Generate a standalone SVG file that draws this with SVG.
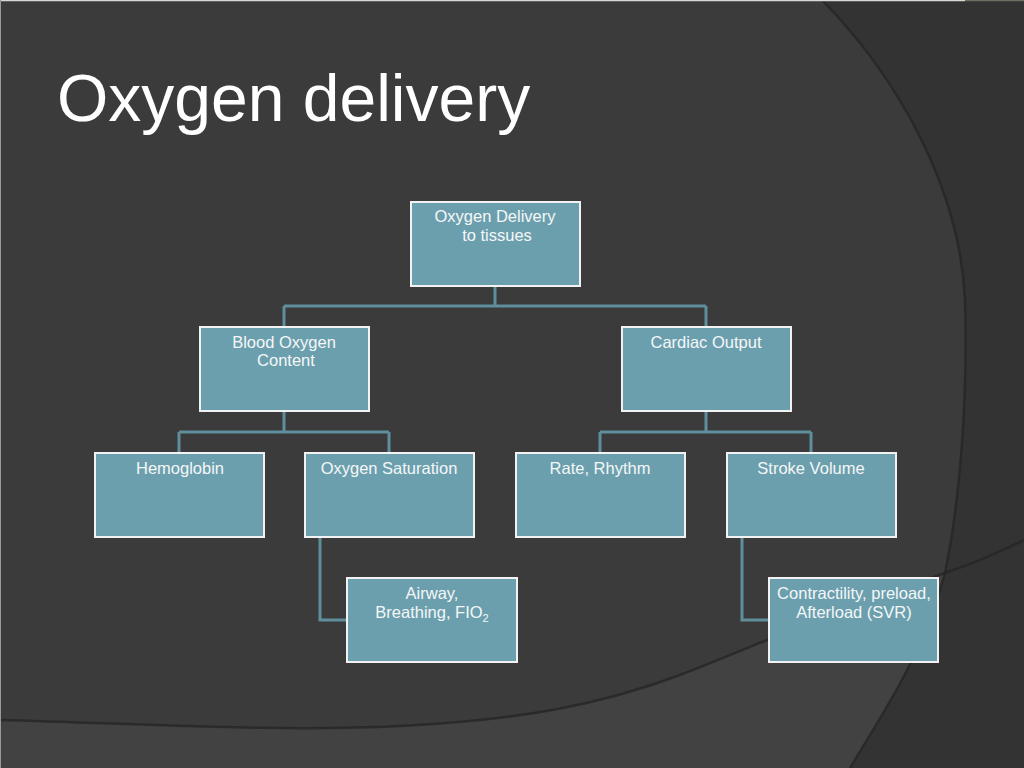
<svg xmlns="http://www.w3.org/2000/svg" width="1024" height="768" viewBox="0 0 1024 768">
<style>
.bg{fill:#3b3b3b}
.node rect{fill:#6c9fad;stroke:#f2f2f2;stroke-width:2}
.node text{font-family:"Liberation Sans",Arial,sans-serif;font-size:16.5px;fill:#f4f7f8;text-anchor:middle}
.title{font-family:"Liberation Sans",Arial,sans-serif;font-size:66px;fill:#ffffff}
#connectors path{fill:none;stroke:#5f8e9c;stroke-width:3}
.edge{fill:none;stroke:#262626;stroke-width:2.5;opacity:0.8}
</style>
<rect class="bg" x="0" y="0" width="1024" height="768"/>
<!-- lighter bottom band -->
<path d="M0,720 C150,724 280,732 400,726 C520,720 600,705 680,675 C740,652 800,625 870,600 C900,590 925,580 945,573 C975,563 1000,552 1024,540 L1024,768 L0,768 Z" fill="#424242"/>
<!-- dark right band -->
<path d="M822,0 C900,80 960,190 965,300 C968,400 960,500 945,573 C925,650 885,710 850,768 L1024,768 L1024,0 Z" fill="#333333"/>
<path class="edge" d="M0,720 C150,724 280,732 400,726 C520,720 600,705 680,675 C740,652 800,625 870,600 C900,590 925,580 945,573 C975,563 1000,552 1024,540"/>
<path class="edge" d="M822,0 C900,80 960,190 965,300 C968,400 960,500 945,573 C925,650 885,710 850,768"/>
<line x1="0" y1="0.5" x2="965" y2="0.5" stroke="#d8d8d8" stroke-width="1.5"/>
<line x1="965" y1="0.5" x2="1024" y2="0.5" stroke="#6e6e60" stroke-width="1.5"/>
<line x1="0.5" y1="0" x2="0.5" y2="768" stroke="#9a9a9a" stroke-width="1"/>

<text class="title" x="57" y="121">Oxygen delivery</text>

<g id="connectors">
<path d="M495,286 V306 M284,306 H706 M284,306 V327 M706,306 V327"/>
<path d="M284,411 V432 M179,432 H389 M179,432 V453 M389,432 V453"/>
<path d="M706,411 V432 M600,432 H811 M600,432 V453 M811,432 V453"/>
<path d="M320,537 V620 H347"/>
<path d="M742,537 V620 H769"/>
</g>

<g id="n-delivery" class="node"><rect x="411" y="202" width="169" height="84"/><text x="495" y="222">Oxygen Delivery</text><text x="497" y="241">to tissues</text></g>
<g id="n-blood" class="node"><rect x="200" y="327" width="169" height="84"/><text x="284" y="348">Blood Oxygen</text><text x="286" y="366">Content</text></g>
<g id="n-cardiac" class="node"><rect x="622" y="327" width="169" height="84"/><text x="706" y="348">Cardiac Output</text></g>
<g id="n-hemoglobin" class="node"><rect x="95" y="453" width="169" height="84"/><text x="180" y="474">Hemoglobin</text></g>
<g id="n-saturation" class="node"><rect x="305" y="453" width="169" height="84"/><text x="389" y="474">Oxygen Saturation</text></g>
<g id="n-rate" class="node"><rect x="516" y="453" width="169" height="84"/><text x="600" y="474">Rate, Rhythm</text></g>
<g id="n-stroke" class="node"><rect x="727" y="453" width="169" height="84"/><text x="811" y="474">Stroke Volume</text></g>
<g id="n-airway" class="node"><rect x="347" y="578" width="170" height="84"/><text x="432" y="599">Airway,</text><text x="432" y="618">Breathing, FIO<tspan font-size="11" dy="4">2</tspan></text></g>
<g id="n-contract" class="node"><rect x="769" y="578" width="169" height="84"/><text x="854" y="599">Contractility, preload,</text><text x="854" y="618">Afterload (SVR)</text></g>
</svg>
